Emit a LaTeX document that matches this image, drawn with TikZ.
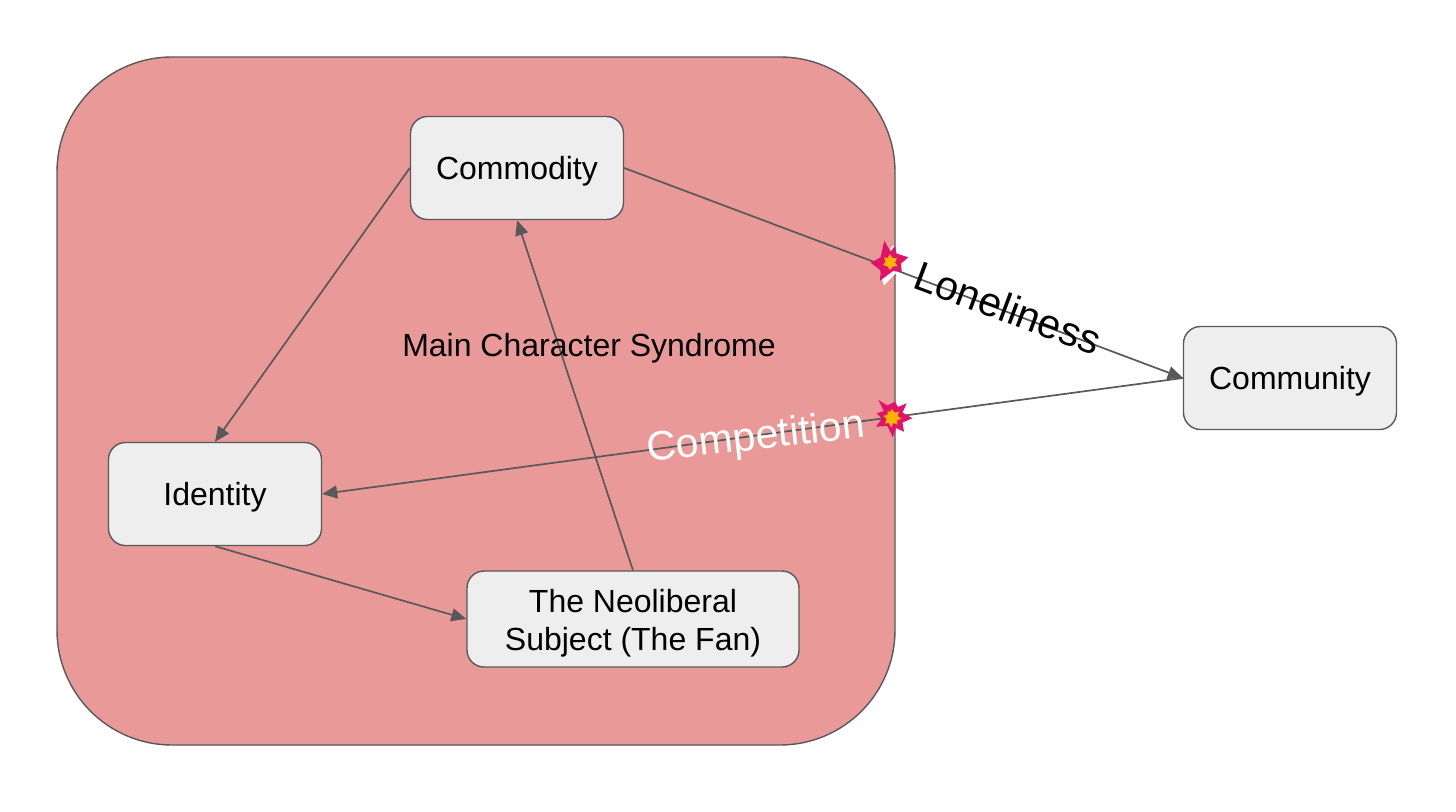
\documentclass[tikz,border=0pt]{standalone}
\usepackage{fontspec}
\setmainfont{Liberation Sans}
\usetikzlibrary{arrows.meta}
\definecolor{linegray}{HTML}{595959}
\definecolor{boxfill}{HTML}{EEEEEE}
\definecolor{bigfill}{HTML}{EA9999}
\definecolor{burst}{HTML}{E0126A}
\definecolor{burstcore}{HTML}{FFB300}
\tikzset{
  x=1pt,y=-1pt,
  bigbox/.style={draw=linegray,line width=1.4pt,fill=bigfill,rounded corners=115pt},
  entity/.style={draw=linegray,line width=1.4pt,fill=boxfill,rounded corners=17pt,inner sep=0pt,align=center,font=\fontsize{32}{38}\selectfont,text=black},
  oneline/.style={entity,minimum width=213pt,minimum height=103pt,text height=23pt,text depth=0pt},
  link/.style={draw=linegray,line width=1.7pt,-{Triangle[length=15pt,width=13pt]}},
  plainlabel/.style={inner sep=0pt,font=\fontsize{32}{38}\selectfont,text=black},
  biglabel/.style={inner sep=0pt,font=\fontsize{41}{48}\selectfont},
  burstfill/.style={fill=burst,draw=none},
  corefill/.style={fill=burstcore,draw=none}
}
\begin{document}
\begin{tikzpicture}
\useasboundingbox (0,0) rectangle (1456,811);
\fill[white] (0,0) rectangle (1456,811);
\path[bigbox] (57,57) rectangle (895,745);
\node[oneline] (commodity) at (517,168) {Commodity};
\node[oneline] (identity) at (215,494) {Identity};
\node[entity,minimum width=332pt,minimum height=96pt] (fan) at (633,619) {\rule{0pt}{31pt}The Neoliberal\\Subject (The Fan)};
\node[oneline] (community) at (1290,378) {Community};
\draw[link] (commodity.east) -- (community.west);
\draw[link] (commodity.west) -- (identity.north);
\draw[link] (community.west) -- (identity.east);
\draw[link] (identity.south) -- (fan.west);
\draw[link] (fan.north) -- (commodity.south);
\node[plainlabel] (syndrome) at (589,348) {Main Character Syndrome};
\node[biglabel,text=black,rotate=-20.5] (loneliness) at (1008,308) {Loneliness};
\node[biglabel,text=white,rotate=6.5] (competition) at (756,439) {Competition};
% first burst
\fill[white] (888,252) -- (893.3,245) -- (895,254) -- cycle;
\fill[white] (880,273) -- (893,266) -- (896,273) -- (884,285.5) -- cycle;
\fill[white] (875,266) -- (883,266) -- (881,270) -- cycle;
\fill[burstfill] (884.3,240.7) -- (890.5,251.5) -- (895,246) -- (896.5,253.5) -- (908.3,257.3) -- (901,263.5) -- (901.7,271.7) -- (893,271) -- (880,280.7) -- (880.5,270.5) -- (870.7,262.7) -- (880.5,257.5) -- cycle;
\fill[corefill] (890,254) -- (892.5,258) -- (897,258) -- (895,262.5) -- (897.5,266) -- (893,266.5) -- (890,270) -- (887.5,266.5) -- (883,265) -- (885.5,261.5) -- (884,257.5) -- (887.5,258) -- cycle;
% second burst
\fill[burstfill] (878.3,400) -- (887.5,405.5) -- (895,401.7) -- (898,407) -- (906.7,403.3) -- (902.5,412.5) -- (912.3,418.3) -- (902.5,422.5) -- (904,431.7) -- (896,428) -- (892.7,437.3) -- (887.5,426) -- (876,426.7) -- (882,418.5) -- (876.7,413.3) -- (884,411) -- cycle;
\fill[corefill] (892,409) -- (894.5,412.5) -- (899,412) -- (897.5,416) -- (901.5,418.5) -- (897,420.5) -- (897.5,424.5) -- (893.5,423) -- (891,427.5) -- (889,423) -- (885,423.5) -- (886.5,419) -- (883.5,416) -- (887.5,414.5) -- (887.5,411) -- (890,412) -- cycle;
\end{tikzpicture}
\end{document}
